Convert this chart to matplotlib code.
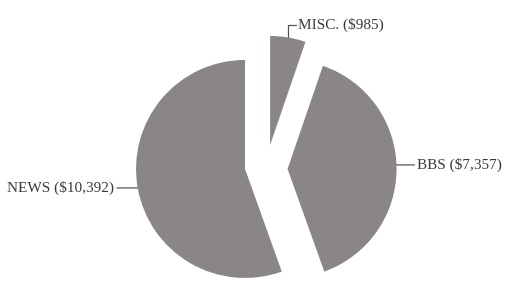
import numpy as np
import matplotlib
matplotlib.use("Agg")
import matplotlib.pyplot as plt

labels = ["NEWS", "BBS", "MISC."]
values = [10392, 7357, 985]
# wedge offsets (in radius units) as they appear in the picture
offsets = [(0.0, 0.0), (0.39, 0.0), (0.23, 0.22)]

fig = plt.figure(figsize=(5.06, 2.87), dpi=100)
ax = fig.add_axes([0, 0, 1, 1])

wedges, _ = ax.pie(values, startangle=90, counterclock=True, radius=1.0,
                   colors=["#8a8687"] * 3,
                   wedgeprops=dict(linewidth=0))

for w, off in zip(wedges, offsets):
    w.set_center(off)

ax.set_xlim(-2.248, 2.394)
ax.set_ylim(-1.083, 1.550)
ax.set_aspect("equal")
ax.axis("off")

txt_kw = dict(fontsize=11, family="Liberation Serif", color="#3a3a3a", va="center")
line_kw = dict(arrowstyle="-", color="#555555", lw=0.9, shrinkA=0, shrinkB=0)

for w, lab, val in zip(wedges, labels, values):
    cx, cy = w.center
    text = "{} (${:,})".format(lab, val)
    if lab == "NEWS":
        y = -0.174
        x = cx - np.sqrt(1 - y ** 2)
        ax.annotate(text, xy=(x, y), xytext=(-1.20, y), ha="right",
                    arrowprops=line_kw, **txt_kw)
    elif lab == "BBS":
        y = 0.037
        x = cx + np.sqrt(1 - (y - cy) ** 2)
        ax.annotate(text, xy=(x, y), xytext=(1.58, y), ha="left",
                    arrowprops=line_kw, **txt_kw)
    else:
        a = np.deg2rad((w.theta1 + w.theta2) / 2)
        px, py = cx + np.cos(a), cy + np.sin(a)
        ax.annotate(text, xy=(px, py), xytext=(0.49, 1.32), ha="left",
                    arrowprops=dict(connectionstyle="angle,angleA=0,angleB=90,rad=0",
                                    **line_kw), **txt_kw)

fig.savefig("out.png", dpi=100)
